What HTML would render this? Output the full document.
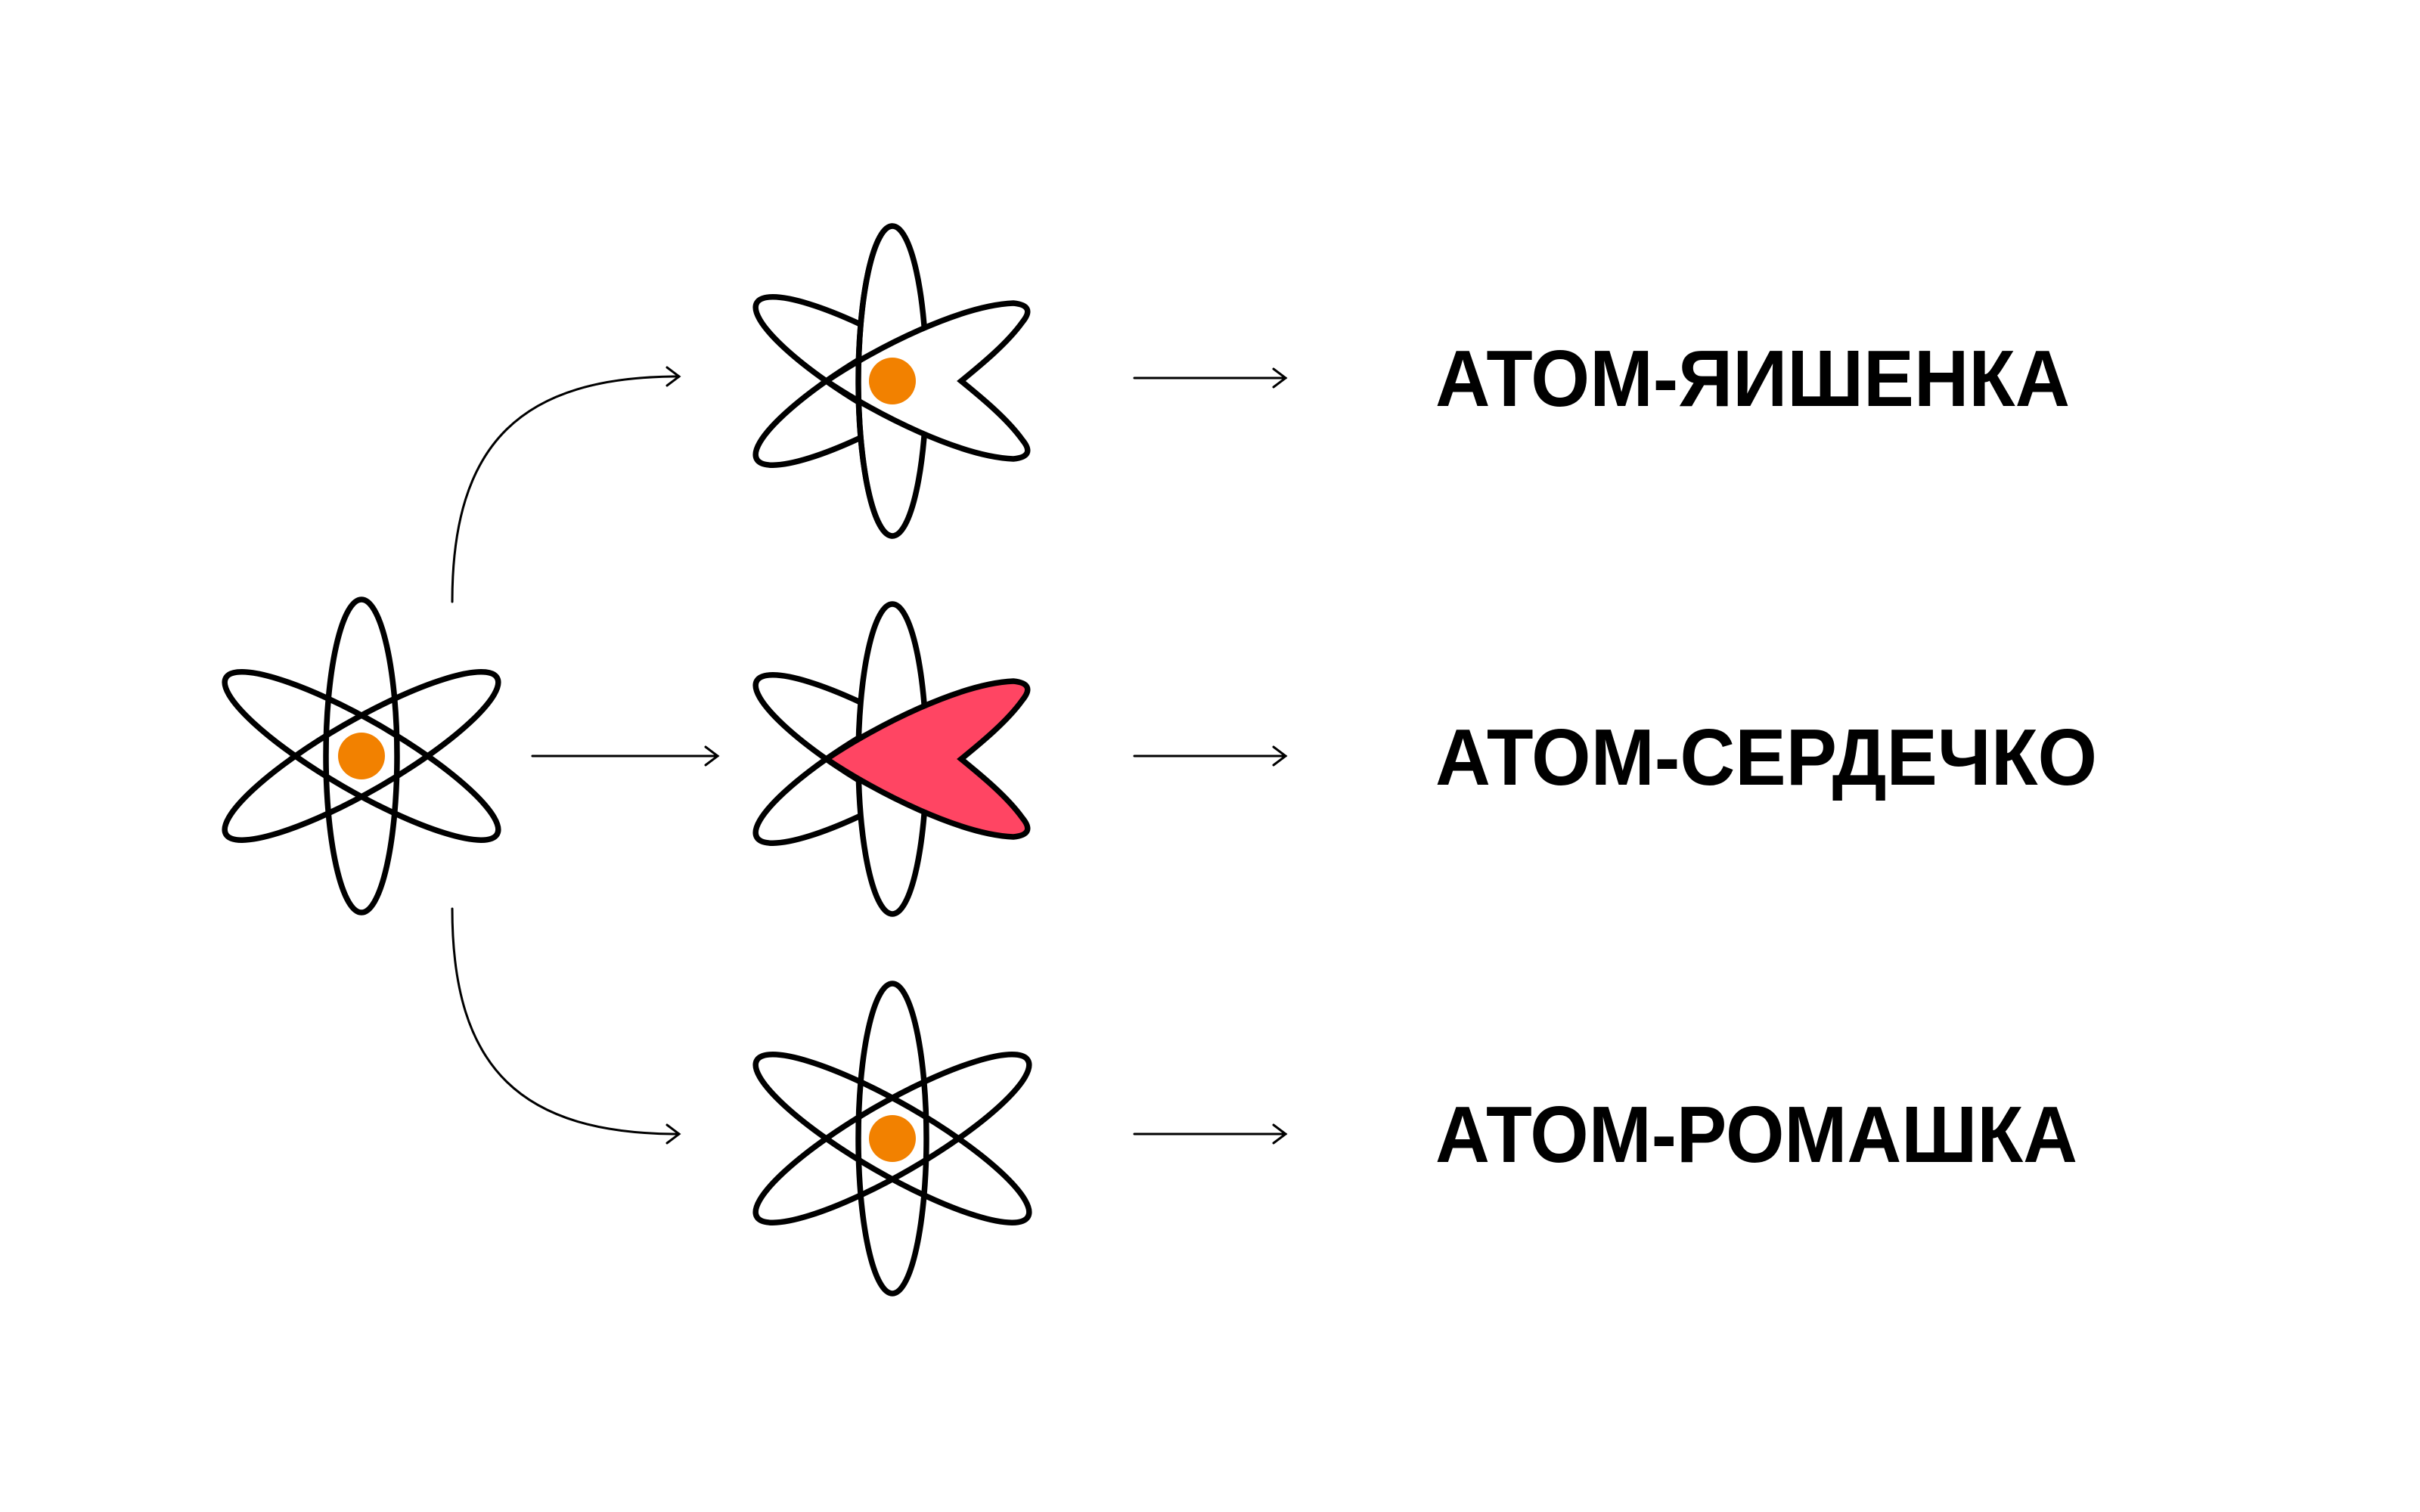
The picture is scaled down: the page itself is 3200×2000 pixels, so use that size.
<!DOCTYPE html>
<html><head><meta charset="utf-8"><style>html,body{margin:0;padding:0;background:#fff}svg{display:block}</style></head>
<body>
<svg width="3200" height="2000" viewBox="0 0 3200 2000" xmlns="http://www.w3.org/2000/svg">
<defs>
  <clipPath id="leftc"><rect x="-300" y="-300" width="255" height="600"/></clipPath>
  <clipPath id="lefthalf"><rect x="-300" y="-300" width="300" height="600"/></clipPath>
  <path id="heart" d="M -87,0 C -20,-45 90,-100 160,-103 Q 190,-100 172,-78 C 152,-50 118,-22 91,0 C 118,22 152,50 172,78 Q 190,100 160,103 C 90,100 -20,45 -87,0 Z"/>
</defs>
<g fill="none" stroke="#000" stroke-width="7.5">
  <!-- left atom -->
  <g transform="translate(478,1000)">
    <ellipse rx="47" ry="207"/>
    <ellipse rx="47" ry="207" transform="rotate(60)"/>
    <ellipse rx="47" ry="207" transform="rotate(-60)"/>
    <circle r="31" fill="#F28100" stroke="none"/>
  </g>
  <!-- top atom -->
  <g transform="translate(1180,504)">
    <ellipse rx="45" ry="205"/>
    <g clip-path="url(#leftc)">
      <ellipse rx="47" ry="207" transform="rotate(60)"/>
      <ellipse rx="47" ry="207" transform="rotate(-60)"/>
    </g>
    <use href="#heart" fill="#fff"/>
    <ellipse rx="45" ry="205" clip-path="url(#lefthalf)"/>
    <circle r="31" fill="#F28100" stroke="none"/>
  </g>
  <!-- middle atom -->
  <g transform="translate(1180,1004)">
    <ellipse rx="45" ry="205"/>
    <g clip-path="url(#leftc)">
      <ellipse rx="47" ry="207" transform="rotate(60)"/>
      <ellipse rx="47" ry="207" transform="rotate(-60)"/>
    </g>
    <use href="#heart" fill="#FF4563"/>
  </g>
  <!-- bottom atom -->
  <g transform="translate(1180,1506)">
    <ellipse rx="45" ry="205"/>
    <ellipse rx="47" ry="207" transform="rotate(60)"/>
    <ellipse rx="47" ry="207" transform="rotate(-60)"/>
    <circle r="31" fill="#F28100" stroke="none"/>
  </g>
</g>
<g fill="none" stroke="#000" stroke-width="3" stroke-linecap="round">
  <path d="M598,796 C598,585 690,498 898,498"/>
  <path d="M882,486 L898,498 L882,510"/>
  <path d="M598,1202 C598,1415 690,1500 898,1500"/>
  <path d="M882,1488 L898,1500 L882,1512"/>
  <path d="M704,1000 L949,1000"/><path d="M933,988 L949,1000 L933,1012"/>
  <path d="M1500,500 L1700,500"/><path d="M1684,488 L1700,500 L1684,512"/>
  <path d="M1500,1000 L1700,1000"/><path d="M1684,988 L1700,1000 L1684,1012"/>
  <path d="M1500,1500 L1700,1500"/><path d="M1684,1488 L1700,1500 L1684,1512"/>
</g>
<g font-family="'Liberation Sans','DejaVu Sans',sans-serif" font-weight="bold" font-size="106" fill="#000">
  <text x="1898" y="537" textLength="839" lengthAdjust="spacingAndGlyphs">АТОМ-ЯИШЕНКА</text>
  <text x="1898" y="1038" textLength="875" lengthAdjust="spacingAndGlyphs">АТОМ-СЕРДЕЧКО</text>
  <text x="1898" y="1537" textLength="849" lengthAdjust="spacingAndGlyphs">АТОМ-РОМАШКА</text>
</g>
</svg>
</body></html>
